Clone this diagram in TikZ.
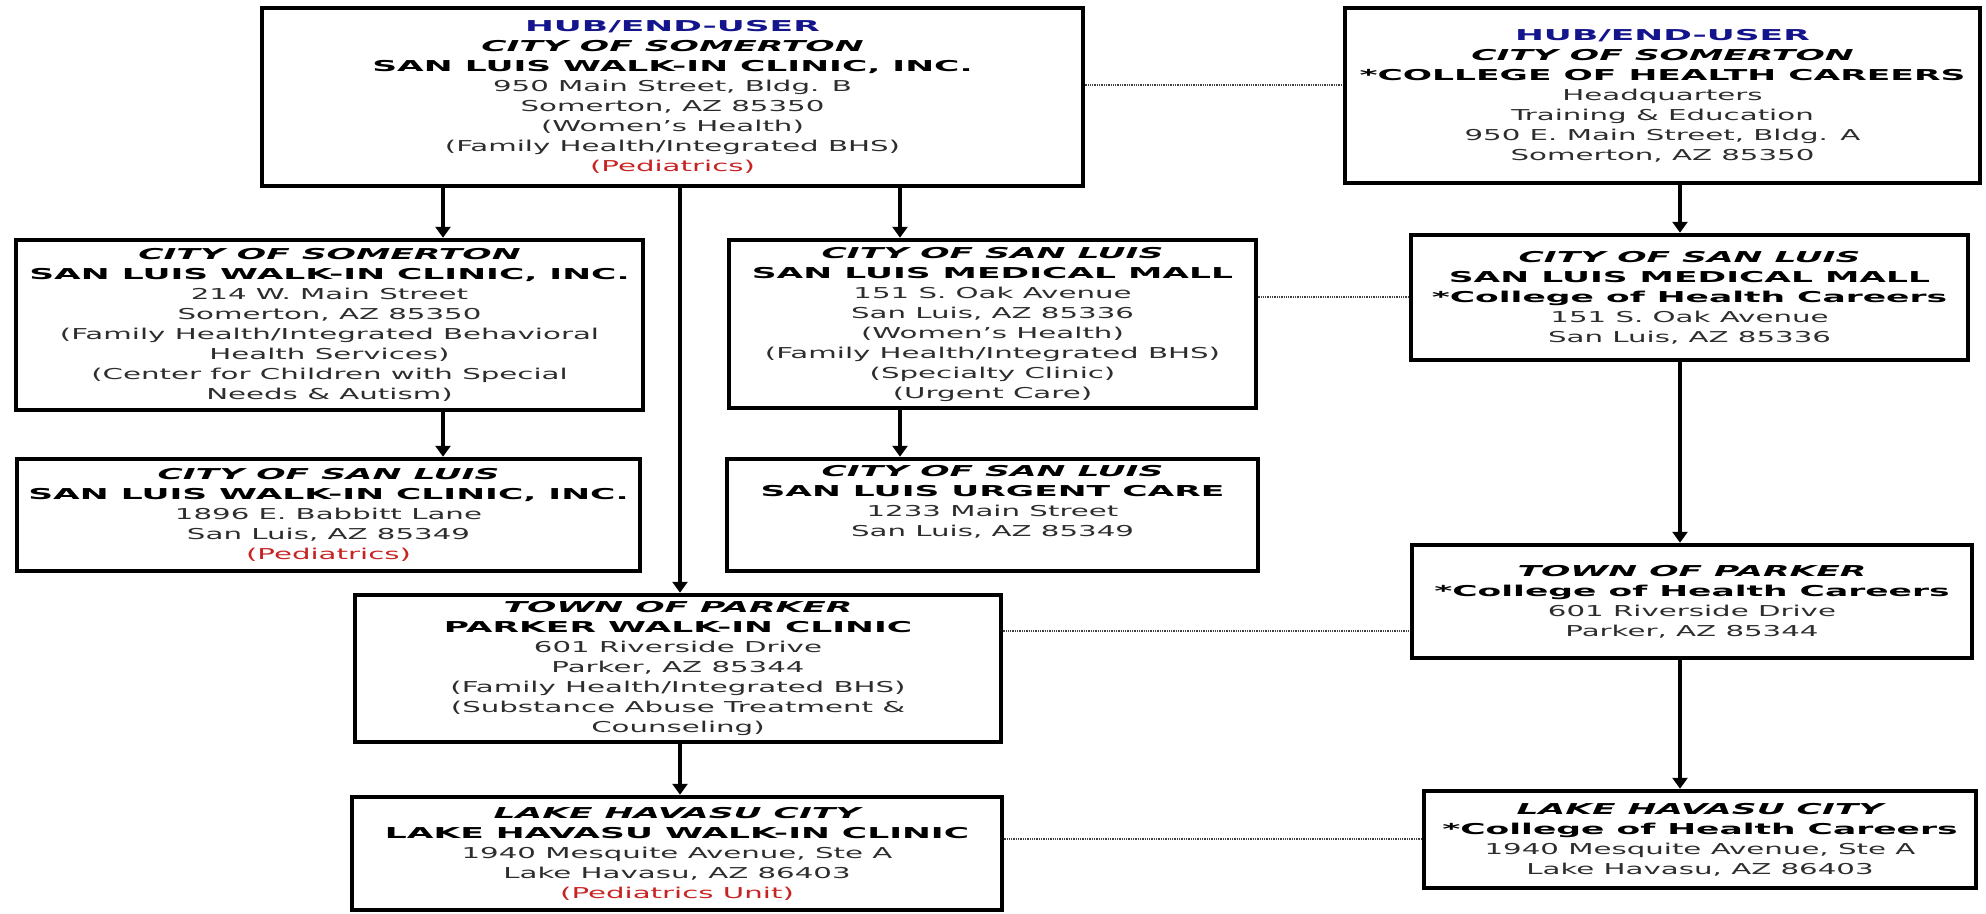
\documentclass[tikz,border=0pt]{standalone}
\usepackage{fontspec}
\newfontfamily\regf{DejaVu Sans}[FakeStretch=1.95]
\newfontfamily\boldf{DejaVu Sans Bold}[FakeStretch=2.3]
\newfontfamily\bitf{DejaVu Sans Bold Oblique}[FakeStretch=2.3]
\usetikzlibrary{arrows.meta,positioning}
\definecolor{hubblue}{RGB}{20,20,140}
\definecolor{pedred}{RGB}{200,35,35}
\definecolor{txtgray}{RGB}{45,45,45}
\newcommand{\hubtag}{{\boldf\color{hubblue}HUB/END-USER}}
\newcommand{\cityname}[1]{{\bitf\color{black}#1}}
\newcommand{\sitename}[1]{{\boldf\color{black}#1}}
\newcommand{\redtxt}[1]{{\color{pedred}#1}}

\begin{document}
\begin{tikzpicture}[x=1pt,y=-1pt,
    box/.style={draw,line width=4.5pt,align=center,inner sep=0pt,
      font=\fontsize{15}{20}\selectfont\regf,text=txtgray},
    arr/.style={line width=4pt,-{Triangle[length=11pt,width=15pt]}},
    link/.style={densely dotted,line width=1.3pt,black!75}]
  \useasboundingbox (0,0) rectangle (1986,913);

  % hubs
  \node[box,minimum width=821pt,minimum height=178pt] (hubclinic) at (672.5,97) {\hubtag\\
    \cityname{CITY OF SOMERTON}\\ \sitename{SAN LUIS WALK-IN CLINIC, INC.}\\
    950 Main Street, Bldg. B\\ Somerton, AZ 85350\\ (Women’s Health)\\
    (Family Health/Integrated BHS)\\ \redtxt{(Pediatrics)}};
  \node[box,minimum width=635pt,minimum height=175pt] (hubcollege) at (1662.5,95.5) {\hubtag\\
    \cityname{CITY OF SOMERTON}\\ \sitename{*COLLEGE OF HEALTH CAREERS}\\
    Headquarters\\ Training \& Education\\ 950 E. Main Street, Bldg. A\\ Somerton, AZ 85350};

  % clinics
  \node[box,minimum width=627pt,minimum height=170pt] (somerton) at (329.5,325) {\cityname{CITY OF SOMERTON}\\
    \sitename{SAN LUIS WALK-IN CLINIC, INC.}\\ 214 W. Main Street\\ Somerton, AZ 85350\\
    (Family Health/Integrated Behavioral\\ Health Services)\\
    (Center for Children with Special\\ Needs \& Autism)};
  \node[box,minimum width=527pt,minimum height=168pt] (medmall) at (992.5,324) {\cityname{CITY OF SAN LUIS}\\
    \sitename{SAN LUIS MEDICAL MALL}\\ 151 S. Oak Avenue\\ San Luis, AZ 85336\\ (Women’s Health)\\
    (Family Health/Integrated BHS)\\ (Specialty Clinic)\\ (Urgent Care)};
  \node[box,minimum width=623pt,minimum height=112pt] (babbitt) at (328.5,515) {\cityname{CITY OF SAN LUIS}\\
    \sitename{SAN LUIS WALK-IN CLINIC, INC.}\\ 1896 E. Babbitt Lane\\ San Luis, AZ 85349\\
    \redtxt{(Pediatrics)}};
  \node[box,minimum width=531pt,minimum height=112pt] (urgent) at (992.5,515) {\cityname{CITY OF SAN LUIS}\\
    \sitename{SAN LUIS URGENT CARE}\\ 1233 Main Street\\ San Luis, AZ 85349\\[8pt]};
  \node[box,minimum width=646pt,minimum height=147pt] (parker) at (678,668.5) {\cityname{TOWN OF PARKER}\\
    \sitename{PARKER WALK-IN CLINIC}\\ 601 Riverside Drive\\ Parker, AZ 85344\\
    (Family Health/Integrated BHS)\\ (Substance Abuse Treatment \&\\ Counseling)};
  \node[box,minimum width=650pt,minimum height=113pt] (havasu) at (677,853.5) {\cityname{LAKE HAVASU CITY}\\
    \sitename{LAKE HAVASU WALK-IN CLINIC}\\ 1940 Mesquite Avenue, Ste A\\ Lake Havasu, AZ 86403\\
    \redtxt{(Pediatrics Unit)}};

  % college sites
  \node[box,minimum width=557pt,minimum height=125pt] (collmall) at (1689.5,297.5) {\cityname{CITY OF SAN LUIS}\\
    \sitename{SAN LUIS MEDICAL MALL}\\ \sitename{*College of Health Careers}\\
    151 S. Oak Avenue\\ San Luis, AZ 85336};
  \node[box,minimum width=560pt,minimum height=113pt] (collparker) at (1692,601.5) {\cityname{TOWN OF PARKER}\\
    \sitename{*College of Health Careers}\\ 601 Riverside Drive\\ Parker, AZ 85344};
  \node[box,minimum width=552pt,minimum height=97pt] (collhavasu) at (1700,839.5) {\cityname{LAKE HAVASU CITY}\\
    \sitename{*College of Health Careers}\\ 1940 Mesquite Avenue, Ste A\\ Lake Havasu, AZ 86403};

  % column and row guides
  \coordinate (colL) at (443,0);
  \coordinate (colM) at (680,0);
  \coordinate (colR) at (900,0);
  \coordinate (colC) at (1680,0);
  \coordinate (rowA) at (0,85);
  \coordinate (rowB) at (0,297);
  \coordinate (rowC) at (0,631);
  \coordinate (rowD) at (0,839);

  \draw[arr] (hubclinic.south -| colL) -- (somerton.north -| colL);
  \draw[arr] (somerton.south -| colL) -- (babbitt.north -| colL);
  \draw[arr] (hubclinic.south -| colR) -- (medmall.north -| colR);
  \draw[arr] (medmall.south -| colR) -- (urgent.north -| colR);
  \draw[arr] (hubclinic.south -| colM) -- (parker.north -| colM);
  \draw[arr] (parker.south -| colM) -- (havasu.north -| colM);
  \draw[arr] (hubcollege.south -| colC) -- (collmall.north -| colC);
  \draw[arr] (collmall.south -| colC) -- (collparker.north -| colC);
  \draw[arr] (collparker.south -| colC) -- (collhavasu.north -| colC);

  \draw[link] (hubclinic.east |- rowA) -- (hubcollege.west |- rowA);
  \draw[link] (medmall.east |- rowB) -- (collmall.west |- rowB);
  \draw[link] (parker.east |- rowC) -- (collparker.west |- rowC);
  \draw[link] (havasu.east |- rowD) -- (collhavasu.west |- rowD);
\end{tikzpicture}
\end{document}
